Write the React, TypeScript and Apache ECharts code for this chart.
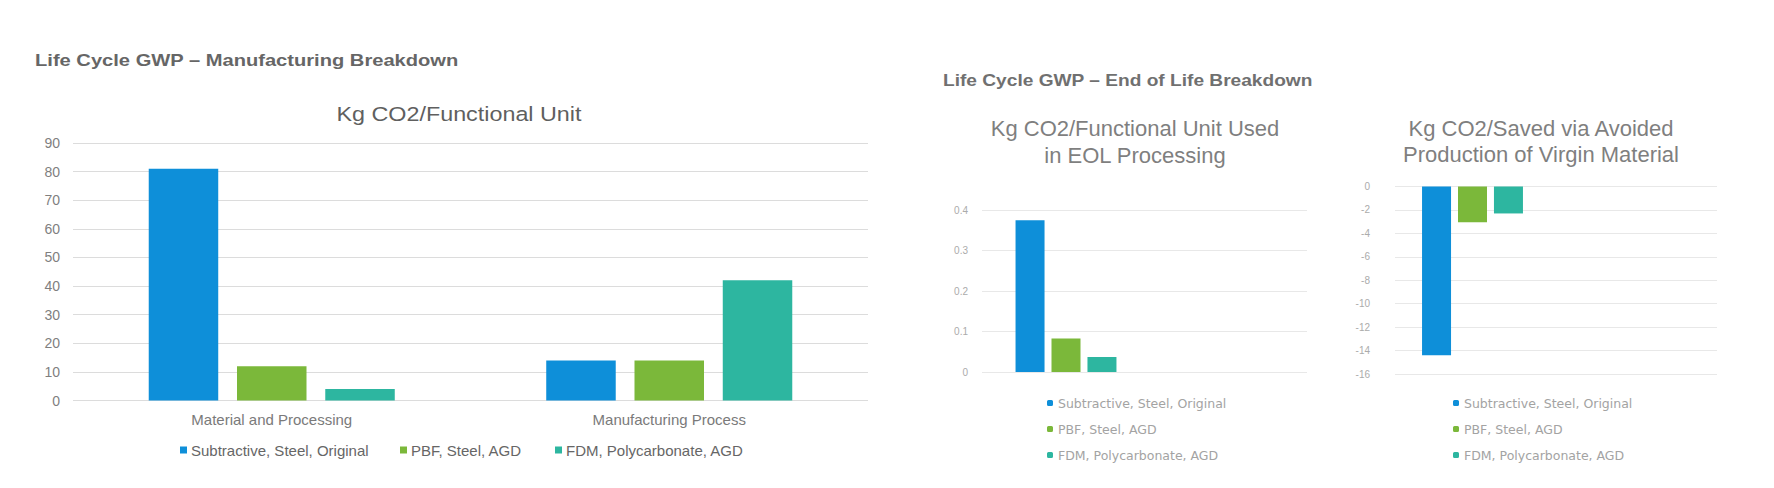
import React, { useEffect, useRef } from "react";
import * as echarts from "echarts";

// ---------- data ----------
const seriesNames = ["Subtractive, Steel, Original", "PBF, Steel, AGD", "FDM, Polycarbonate, AGD"];
const seriesColors = ["#0E8FD9", "#7BB83A", "#2DB6A0"];

const mfgHeader = "Life Cycle GWP – Manufacturing Breakdown";
const mfgTitle = "Kg CO2/Functional Unit";
const mfgCategories = ["Material and Processing", "Manufacturing Process"];
const mfgSubtractive = [81, 14];
const mfgPbf = [12, 14];
const mfgFdm = [4, 42];

const eolHeader = "Life Cycle GWP – End of Life Breakdown";
const eolUsedTitle = "Kg CO2/Functional Unit Used\nin EOL Processing";
const eolUsedCategories = ["EOL Processing"];
const eolUsedSubtractive = [0.375];
const eolUsedPbf = [0.083];
const eolUsedFdm = [0.037];

const eolSavedTitle = "Kg CO2/Saved via Avoided\nProduction of Virgin Material";
const eolSavedCategories = ["Avoided Virgin Material"];
const eolSavedSubtractive = [-14.4];
const eolSavedPbf = [-3.05];
const eolSavedFdm = [-2.3];

const FONT = '"Liberation Sans", Arial, Helvetica, sans-serif';

export default function App() {
  const ref = useRef<HTMLDivElement>(null);

  useEffect(() => {
    if (!ref.current) return;
    const chart = echarts.init(ref.current, undefined, { renderer: "svg" });

    const grids = [
      { left: 73, top: 143, width: 795, height: 257.5 }, // 0 manufacturing
      { left: 982, top: 210, width: 325, height: 162 }, // 1 eol used axes
      { left: 982, top: 210, width: 168, height: 162 }, // 2 eol used bars
      { left: 1395, top: 186.5, width: 322, height: 187.5 }, // 3 eol saved axes
      { left: 1395, top: 186.5, width: 155, height: 187.5 }, // 4 eol saved bars
    ];

    const hiddenX = (gridIndex: number, data: string[]) => ({
      type: "category",
      gridIndex,
      data,
      show: false,
    });
    const hiddenY = (gridIndex: number, min: number, max: number) => ({
      type: "value",
      gridIndex,
      min,
      max,
      show: false,
      splitLine: { show: false },
    });

    const xAxis = [
      {
        type: "category",
        gridIndex: 0,
        data: mfgCategories,
        axisLine: { show: false },
        axisTick: { show: false },
        axisLabel: { color: "#7a7a7a", fontSize: 15, fontFamily: FONT, margin: 11 },
      },
      hiddenX(1, eolUsedCategories),
      hiddenX(2, eolUsedCategories),
      hiddenX(3, eolSavedCategories),
      hiddenX(4, eolSavedCategories),
    ];

    const yAxis = [
      {
        type: "value",
        gridIndex: 0,
        min: 0,
        max: 90,
        interval: 10,
        axisLine: { show: false },
        axisTick: { show: false },
        axisLabel: { color: "#7f7f7f", fontSize: 14, fontFamily: FONT, margin: 13 },
        splitLine: { lineStyle: { color: "#dcdcdc", width: 1 } },
      },
      {
        type: "value",
        gridIndex: 1,
        min: 0,
        max: 0.4,
        interval: 0.1,
        axisLine: { show: false },
        axisTick: { show: false },
        axisLabel: { color: "#ababab", fontSize: 10, fontFamily: FONT, margin: 14 },
        splitLine: { lineStyle: { color: "#e8e8e8", width: 1 } },
      },
      hiddenY(2, 0, 0.4),
      {
        type: "value",
        gridIndex: 3,
        min: -16,
        max: 0,
        interval: 2,
        axisLine: { show: false },
        axisTick: { show: false },
        axisLabel: { color: "#ababab", fontSize: 10, fontFamily: FONT, margin: 25 },
        splitLine: { lineStyle: { color: "#e8e8e8", width: 1 } },
      },
      hiddenY(4, -16, 0),
    ];

    const bar = (name: string, color: string, data: number[], axisIndex: number, barWidth: number, barGap: string) => ({
      type: "bar",
      name,
      data,
      xAxisIndex: axisIndex,
      yAxisIndex: axisIndex,
      barWidth,
      barGap,
      itemStyle: { color },
    });

    const series = [
      bar(seriesNames[0], seriesColors[0], mfgSubtractive, 0, 69.5, "27%"),
      bar(seriesNames[1], seriesColors[1], mfgPbf, 0, 69.5, "27%"),
      bar(seriesNames[2], seriesColors[2], mfgFdm, 0, 69.5, "27%"),
      bar(seriesNames[0], seriesColors[0], eolUsedSubtractive, 2, 29, "24%"),
      bar(seriesNames[1], seriesColors[1], eolUsedPbf, 2, 29, "24%"),
      bar(seriesNames[2], seriesColors[2], eolUsedFdm, 2, 29, "24%"),
      bar(seriesNames[0], seriesColors[0], eolSavedSubtractive, 4, 29, "24%"),
      bar(seriesNames[1], seriesColors[1], eolSavedPbf, 4, 29, "24%"),
      bar(seriesNames[2], seriesColors[2], eolSavedFdm, 4, 29, "24%"),
    ];

    const leftLegend = (name: string, left: number) => ({
      data: [{ name }],
      left,
      top: 442,
      orient: "horizontal",
      icon: "rect",
      itemWidth: 7,
      itemHeight: 7,
      selectedMode: false,
      padding: 0,
      textStyle: { color: "#666666", fontSize: 15, fontFamily: FONT, lineHeight: 16, padding: [0, 0, 0, -1] },
    });
    const rightLegend = (left: number) => ({
      data: seriesNames.map((n) => ({ name: n })),
      left,
      top: 396,
      orient: "vertical",
      icon: "roundRect",
      itemWidth: 6,
      itemHeight: 6,
      itemGap: 12,
      selectedMode: false,
      padding: 0,
      textStyle: { color: "#a3a3a3", fontSize: 12.5, fontFamily: '"DejaVu Sans", sans-serif', lineHeight: 14 },
    });

    const textEl = (
      text: string,
      x: number,
      y: number,
      size: number,
      color: string,
      opts: { bold?: boolean; align?: string; scaleX?: number; lineHeight?: number } = {}
    ) => ({
      type: "text",
      x,
      y,
      scaleX: opts.scaleX ?? 1,
      silent: true,
      style: {
        text,
        fill: color,
        fontSize: size,
        fontWeight: opts.bold ? "bold" : "normal",
        fontFamily: FONT,
        lineHeight: opts.lineHeight ?? size * 1.2,
        align: opts.align ?? "left",
        textAlign: opts.align ?? "left",
        verticalAlign: "middle",
        textVerticalAlign: "middle",
      },
    });

    chart.setOption({
      animation: false,
      backgroundColor: "#ffffff",
      grid: grids,
      xAxis,
      yAxis,
      series,
      legend: [
        leftLegend(seriesNames[0], 180),
        leftLegend(seriesNames[1], 400),
        leftLegend(seriesNames[2], 555),
        rightLegend(1047),
        rightLegend(1453),
      ],
      graphic: [
        textEl(mfgHeader, 35, 61, 16, "#666666", { bold: true, scaleX: 1.258 }),
        textEl(mfgTitle, 459, 114, 20.5, "#5f5f5f", { align: "center", scaleX: 1.138 }),
        textEl(eolHeader, 943, 81, 16, "#707070", { bold: true, scaleX: 1.196 }),
        textEl(eolUsedTitle, 1135, 142, 22, "#7f7f7f", { align: "center", lineHeight: 27 }),
        textEl(eolSavedTitle, 1541, 141, 22, "#7f7f7f", { align: "center", lineHeight: 26 }),
      ],
    });

    return () => chart.dispose();
  }, []);

  return (
    <div
      ref={ref}
      style={{ position: "absolute", left: 0, top: 0, width: 1774, height: 488, background: "#fff" }}
    />
  );
}
